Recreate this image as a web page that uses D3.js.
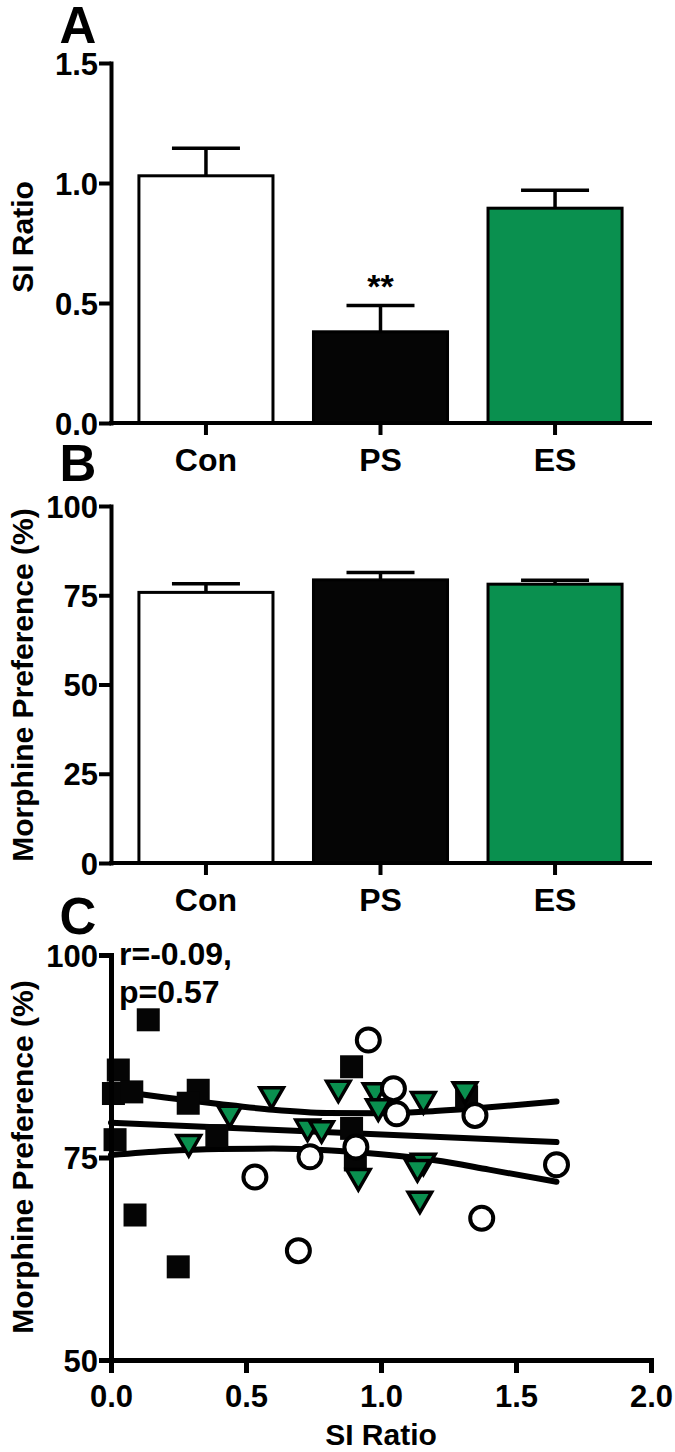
<!DOCTYPE html>
<html>
<head>
<meta charset="utf-8">
<script src="https://cdn.jsdelivr.net/npm/d3@7"></script>
<style>
  html, body { margin: 0; padding: 0; background: #fff; }
  svg { display: block; font-family: "Liberation Sans", Arial, Helvetica, sans-serif; font-weight: bold; }
</style>
</head>
<body>
<svg id="chart" width="675" height="1452"></svg>
<script>
// ---------- DATA ----------
const groups = ["Con", "PS", "ES"];
const groupFill = ["#ffffff", "#050505", "#0a904f"];

// Panel A: SI ratio (mean, SEM upper)
const siMean = [1.03, 0.38, 0.895];
const siErrTop = [1.145, 0.49, 0.97];
const siTicks = [0.0, 0.5, 1.0, 1.5];

// Panel B: morphine preference (%)
const mpMean = [75.8, 79.3, 78.1];
const mpErrTop = [78.2, 81.4, 79.2];
const mpTicks = [0, 25, 50, 75, 100];

// Panel C: scatter (SI ratio, morphine preference %)
const psX = [0.138, 0.027, 0.009, 0.077, 0.015, 0.323, 0.286, 0.392, 0.089, 0.249, 0.891, 0.891, 0.905, 1.317];
const psY = [92.0, 85.8, 82.9, 83.1, 77.2, 83.3, 81.7, 77.7, 67.9, 61.5, 86.2, 78.6, 74.7, 82.5];
const esX = [0.44, 0.595, 0.288, 0.842, 0.728, 0.78, 0.978, 0.99, 1.157, 1.311, 0.916, 1.157, 1.135, 1.144];
const esY = [80.6, 82.9, 77.0, 83.7, 78.9, 78.7, 83.4, 81.4, 82.3, 83.5, 72.8, 74.7, 73.9, 70.0];
const conX = [0.953, 1.046, 1.058, 1.348, 0.737, 0.907, 0.533, 0.694, 1.373, 1.65];
const conY = [89.5, 83.5, 80.4, 80.2, 75.1, 76.3, 72.6, 63.5, 67.5, 74.1];

// regression line and its 95% confidence band
const fitX = [0, 1.65];
const fitY = [79.3, 76.9];
const bandX = [0, 0.2, 0.4, 0.6, 0.8, 1.0, 1.2, 1.4, 1.65];
const bandUpper = [83.3, 82.4, 81.6, 80.9, 80.5, 80.45, 80.75, 81.2, 81.9];
const bandLower = [75.3, 75.8, 76.05, 76.1, 75.9, 75.4, 74.65, 73.5, 72.0];

const scXTicks = [0.0, 0.5, 1.0, 1.5, 2.0];
const scYTicks = [50, 75, 100];

const statLines = ["r=-0.09,", "p=0.57"];

// ---------- DRAW ----------
const svg = d3.select("#chart");
svg.append("rect").attr("width", 675).attr("height", 1452).attr("fill", "#fff");

const axisX0 = 111, axisX1 = 650;
const tickFont = 31, catFont = 32, titleFont = 30;

function styleAxis(g, w) {
  g.selectAll(".domain").attr("stroke", "#000").attr("stroke-width", w).attr("stroke-linecap", "square");
  g.selectAll(".tick line").attr("stroke", "#000").attr("stroke-width", w);
  g.selectAll(".tick text").attr("fill", "#000").attr("font-size", tickFont).attr("font-weight", "bold")
    .attr("font-family", '"Liberation Sans", Arial, sans-serif');
}

function barPanel(opts) {
  const y = d3.scaleLinear().domain(opts.domain).range([opts.y0, opts.y1]);
  const x = d3.scaleBand().domain(groups).range([axisX0, axisX1]).paddingInner(0.232).paddingOuter(0.16);
  const g = svg.append("g");

  // error bars (upper only)
  const capW = 68;
  groups.forEach((c, i) => {
    const cx = x(c) + x.bandwidth() / 2;
    g.append("line").attr("x1", cx).attr("x2", cx).attr("y1", y(opts.mean[i])).attr("y2", y(opts.err[i]))
      .attr("stroke", "#000").attr("stroke-width", 3.5);
    g.append("line").attr("x1", cx - capW / 2).attr("x2", cx + capW / 2).attr("y1", y(opts.err[i])).attr("y2", y(opts.err[i]))
      .attr("stroke", "#000").attr("stroke-width", 3.5);
  });

  g.selectAll("rect.bar").data(groups).join("rect")
    .attr("x", d => x(d)).attr("width", x.bandwidth())
    .attr("y", (d, i) => y(opts.mean[i])).attr("height", (d, i) => y(opts.domain[0]) - y(opts.mean[i]))
    .attr("fill", (d, i) => groupFill[i]).attr("stroke", "#000").attr("stroke-width", 3);

  const ya = g.append("g").attr("transform", `translate(${axisX0},0)`)
    .call(d3.axisLeft(y).tickValues(opts.ticks).tickFormat(opts.fmt).tickSize(12).tickSizeOuter(0).tickPadding(1));
  styleAxis(ya, 4);
  ya.selectAll(".tick text").attr("dy", "0.36em");

  const xa = g.append("g").attr("transform", `translate(0,${opts.y0})`)
    .call(d3.axisBottom(x).tickSize(12).tickSizeOuter(0).tickPadding(13));
  styleAxis(xa, 4);
  xa.select(".domain").attr("d", `M${axisX0},0H${axisX1}`);
  xa.selectAll(".tick text").attr("font-size", catFont);

  // y title
  svg.append("text").attr("transform", `translate(33,${opts.titleY}) rotate(-90)`)
    .attr("text-anchor", "middle").attr("font-size", titleFont).text(opts.title);
  // panel letter
  svg.append("text").attr("x", 78).attr("y", opts.letterY).attr("text-anchor", "middle")
    .attr("font-size", 51).text(opts.letter);
  return { x, y };
}

const A = barPanel({ domain: [0, 1.5], y0: 423, y1: 63, mean: siMean, err: siErrTop, ticks: siTicks,
  fmt: d3.format(".1f"), title: "SI Ratio", titleY: 237, letter: "A", letterY: 43 });
// significance
svg.append("text").attr("x", A.x("PS") + A.x.bandwidth() / 2).attr("y", A.y(siErrTop[1]) + 4)
  .attr("dy", "-0.35em").attr("text-anchor", "middle").attr("font-size", 34).text("**");

barPanel({ domain: [0, 100], y0: 863, y1: 506, mean: mpMean, err: mpErrTop, ticks: mpTicks,
  fmt: d3.format("d"), title: "Morphine Preference (%)", titleY: 685, letter: "B", letterY: 481 });

// ---------- Panel C ----------
const sx = d3.scaleLinear().domain([0, 2]).range([111, 651]);
const sy = d3.scaleLinear().domain([50, 100]).range([1360, 955]);
const gC = svg.append("g");

const line = d3.line().x(d => sx(d[0])).y(d => sy(d[1]));
const lineSmooth = d3.line().x(d => sx(d[0])).y(d => sy(d[1])).curve(d3.curveMonotoneX);
[bandUpper, bandLower].forEach(arr => {
  gC.append("path").attr("d", lineSmooth(bandX.map((v, i) => [v, arr[i]])))
    .attr("fill", "none").attr("stroke", "#000").attr("stroke-width", 6).attr("stroke-linecap", "round");
});
gC.append("path").attr("d", line(fitX.map((v, i) => [v, fitY[i]])))
  .attr("fill", "none").attr("stroke", "#000").attr("stroke-width", 6).attr("stroke-linecap", "round");

// squares (PS)
const sq = 23;
gC.selectAll("rect.ps").data(psX).join("rect")
  .attr("x", d => sx(d) - sq / 2).attr("y", (d, i) => sy(psY[i]) - sq / 2)
  .attr("width", sq).attr("height", sq).attr("fill", "#050505");

// down triangles (ES)
const tri = d3.symbol().type(d3.symbolTriangle).size(240);
gC.selectAll("path.es").data(esX).join("path")
  .attr("d", tri)
  .attr("transform", (d, i) => `translate(${sx(d)},${sy(esY[i]) + 1}) rotate(180)`)
  .attr("fill", "#0a904f").attr("stroke", "#000").attr("stroke-width", 3.5).attr("stroke-linejoin", "miter");

// circles (Con)
gC.selectAll("circle.con").data(conX).join("circle")
  .attr("cx", d => sx(d)).attr("cy", (d, i) => sy(conY[i])).attr("r", 11.5)
  .attr("fill", "#fff").attr("stroke", "#000").attr("stroke-width", 4);

const yaC = gC.append("g").attr("transform", "translate(111,0)")
  .call(d3.axisLeft(sy).tickValues(scYTicks).tickFormat(d3.format("d")).tickSize(12).tickSizeOuter(0).tickPadding(1));
styleAxis(yaC, 5);
yaC.selectAll(".tick text").attr("dy", "0.36em");

const xaC = gC.append("g").attr("transform", "translate(0,1360)")
  .call(d3.axisBottom(sx).tickValues(scXTicks).tickFormat(d3.format(".1f")).tickSize(13).tickSizeOuter(0).tickPadding(12));
styleAxis(xaC, 5);

svg.append("text").attr("x", 381).attr("y", 1445).attr("text-anchor", "middle")
  .attr("font-size", titleFont).text("SI Ratio");
svg.append("text").attr("transform", "translate(33,1157) rotate(-90)")
  .attr("text-anchor", "middle").attr("font-size", titleFont).text("Morphine Preference (%)");
svg.append("text").attr("x", 78).attr("y", 934).attr("text-anchor", "middle")
  .attr("font-size", 51).text("C");

statLines.forEach((t, i) => {
  svg.append("text").attr("x", 119).attr("y", 965 + i * 38).attr("font-size", 32).text(t);
});
</script>
</body>
</html>
